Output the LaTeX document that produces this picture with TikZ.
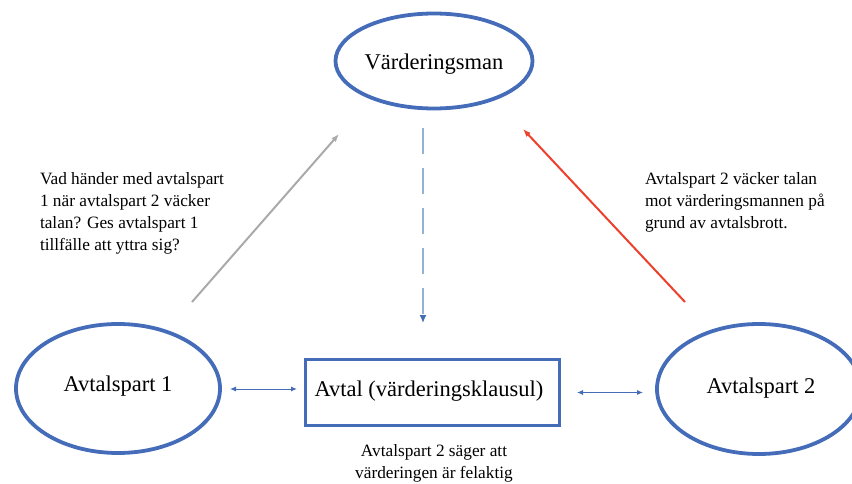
\documentclass[tikz,border=0pt]{standalone}
\usepackage{fontspec}
\setmainfont{Liberation Serif}
\usetikzlibrary{shapes.geometric,arrows.meta}
\definecolor{obl}{RGB}{68,108,184}
\definecolor{lbl}{RGB}{150,176,222}
\definecolor{agray}{RGB}{170,170,170}
\definecolor{ared}{RGB}{236,64,44}
\tikzset{
  oval/.style={ellipse,draw=obl,line width=3.8pt,inner sep=0pt,outer sep=0pt,font=\fontsize{22.5}{26}\selectfont},
  boxnode/.style={rectangle,draw=obl,line width=3.6pt,inner sep=0pt,outer sep=0pt,minimum width=254pt,minimum height=66pt},
  bigtext/.style={inner sep=0pt,outer sep=0pt,font=\fontsize{22.5}{26}\selectfont},
  note/.style={inner sep=0pt,outer sep=0pt,font=\fontsize{17.3}{22}\selectfont},
  bigtip/.tip={Latex[length=8pt,width=6pt]},
  smalltip/.tip={Latex[length=6pt,width=5pt]}
}
\begin{document}
\begin{tikzpicture}[x=1pt,y=-1pt]
\useasboundingbox (0,0) rectangle (852,484);
\clip (0,0) rectangle (852,484);
\node[oval,minimum width=197pt,minimum height=95pt] (vm) at (434,61) {};
\node[bigtext] (vmt) at (434,64) {Värderingsman};
\node[oval,minimum width=204pt,minimum height=129pt] (a1) at (118,388.5) {};
\node[bigtext] (a1t) at (118,386) {Avtalspart 1};
\node[oval,minimum width=204pt,minimum height=130pt] (a2) at (759,389) {};
\node[bigtext] (a2t) at (761,388) {Avtalspart 2};
\node[boxnode] (box) at (432.5,392.5) {};
\node[bigtext] (boxt) at (429,391) {Avtal (värderingsklausul)};

\node[note,align=left,anchor=north west] (q1) at (40,172) {Vad händer med avtalspart\\1 när avtalspart 2 väcker\\talan? Ges avtalspart 1\\tillfälle att yttra sig?};
\node[note,align=left,anchor=north west] (q2) at (645,172) {Avtalspart 2 väcker talan\\mot värderingsmannen på\\grund av avtalsbrott.};
\node[note,align=center,anchor=north] (q3) at (434,444) {Avtalspart 2 säger att\\värderingen är felaktig};

\coordinate (g1) at (192,302);
\coordinate (g2) at (339,134);
\coordinate (r1) at (685,302);
\coordinate (r2) at (523,129);
\coordinate (d1) at (423,128);
\coordinate (d2) at (423,323);
\coordinate (l1) at (230,389);
\coordinate (l2) at (297,389);
\coordinate (k1) at (577,392.5);
\coordinate (k2) at (643,392.5);

\draw[agray,line width=2pt,-{bigtip}] (g1) -- (g2);
\draw[ared,line width=2pt,-{bigtip}] (r1) -- (r2);
\draw[lbl,line width=1.4pt,dash pattern=on 26pt off 14pt,-{Latex[length=8pt,width=7pt,color=obl]}] (d1) -- (d2);
\draw[obl,line width=1pt,{smalltip}-{smalltip}] (l1) -- (l2);
\draw[obl,line width=1pt,{smalltip}-{smalltip}] (k1) -- (k2);
\end{tikzpicture}
\end{document}
